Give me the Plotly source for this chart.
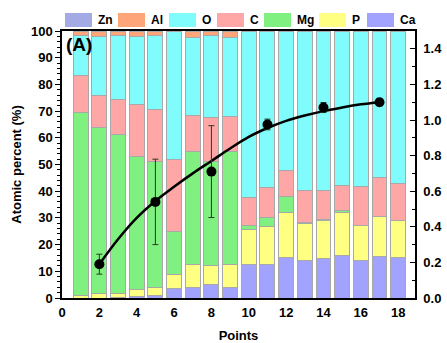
import plotly.graph_objects as go

# ---- data ----
points = list(range(1, 19))
elements = ["Zn", "Al", "O", "C", "Mg", "P", "Ca"]  # legend order (top of stack first)

Ca = [0.0, 0.0, 0.3, 0.5, 1.1, 3.6, 3.9, 4.9, 3.9, 12.6, 12.6, 15.2, 13.9, 14.9, 16.1, 13.9, 15.7, 15.1]
P = [0.9, 1.8, 1.3, 2.8, 2.8, 5.3, 8.7, 7.2, 8.7, 13.1, 14.1, 16.9, 13.9, 14.3, 15.8, 13.2, 14.8, 14.1]
Mg = [68.6, 62.1, 59.8, 49.6, 47.1, 15.9, 42.2, 38.9, 42.2, 1.4, 3.5, 5.8, 0.5, 0.3, 0.7, 0.0, 0.0, 0.0]
C = [14.0, 11.9, 13.1, 19.4, 19.7, 26.9, 13.4, 16.5, 13.1, 10.6, 11.3, 10.0, 12.1, 10.9, 9.7, 14.8, 14.7, 13.5]
O = [14.7, 22.1, 23.9, 25.6, 27.5, 48.3, 29.4, 30.7, 29.7, 62.3, 58.5, 52.1, 59.6, 59.6, 57.7, 58.1, 54.8, 57.3]
Al = [1.8, 2.1, 1.6, 2.1, 1.8, 0.0, 2.4, 1.8, 2.4, 0, 0, 0, 0, 0, 0, 0, 0, 0]
Zn = [0.0] * 18

marker_x = [2, 5, 8, 11, 14, 17]
marker_y = [0.19, 0.54, 0.71, 0.975, 1.07, 1.10]
marker_err = [0.056, 0.24, 0.258, 0.03, 0.028, 0.02]

curve_x = [2, 3, 4, 5, 6, 7, 8, 9, 10, 11, 12, 13, 14, 15, 16, 17]
curve_y = [0.19, 0.33, 0.45, 0.545, 0.625, 0.70, 0.77, 0.84, 0.905, 0.955, 0.995, 1.025, 1.05, 1.07, 1.088, 1.10]

x_ticks = [0, 2, 4, 6, 8, 10, 12, 14, 16, 18]

colors = {
    "Zn": "#A4ABE4",
    "Al": "#FFA57A",
    "O": "#80FCFC",
    "C": "#FFA6A6",
    "Mg": "#80F080",
    "P": "#FFFF82",
    "Ca": "#A2A2FF",
}

series = {"Ca": Ca, "P": P, "Mg": Mg, "C": C, "O": O, "Al": Al, "Zn": Zn}
stack_order = ["Ca", "P", "Mg", "C", "O", "Al", "Zn"]

FONT = "Liberation Sans, Arial, sans-serif"

fig = go.Figure()
for name in stack_order:
    fig.add_trace(go.Bar(
        x=points, y=series[name], name=name, width=0.8,
        marker=dict(color=colors[name], line=dict(color="#A8A8A8", width=1)),
        showlegend=False,
    ))

fig.add_trace(go.Scatter(
    x=curve_x, y=curve_y, mode="lines", line=dict(color="black", width=2.5, shape="spline"),
    yaxis="y2", showlegend=False,
))
fig.add_trace(go.Scatter(
    x=marker_x, y=marker_y, mode="markers",
    marker=dict(color="black", size=10),
    error_y=dict(type="data", array=marker_err, color="#2a3a22", thickness=1, width=3),
    yaxis="y2", showlegend=False,
))

# custom legend (wide patches like the reference)
L, R, T, B = 62, 32, 31, 45
W, H = 447 - L - R, 343 - T - B
legend_patch_px = [65, 118, 169, 217, 264, 319, 367]
patch_w = 27
for name, px in zip(elements, legend_patch_px):
    x0 = (px - L) / W
    x1 = (px + patch_w - L) / W
    fig.add_shape(type="rect", xref="paper", yref="paper",
                  x0=x0, x1=x1, y0=(298 - 27) / H, y1=(298 - 13) / H,
                  fillcolor=colors[name], line=dict(width=0))
    fig.add_annotation(xref="paper", yref="paper", x=x1 + 4 / W, y=(298 - 20) / H,
                       text=name, showarrow=False, xanchor="left", yanchor="middle",
                       font=dict(family=FONT, size=12, color="black", weight="bold"))

fig.add_annotation(xref="paper", yref="paper", x=(64 - L) / W, y=(298 - 44) / H,
                   text="(A)", showarrow=False, xanchor="left", yanchor="middle",
                   font=dict(family=FONT, size=19, color="black", weight="bold"))

tickfont = dict(family=FONT, size=13, color="black", weight="bold")
fig.update_layout(
    width=447, height=343,
    margin=dict(l=L, r=R, t=T, b=B, autoexpand=False),
    barmode="stack",
    plot_bgcolor="white", paper_bgcolor="white",
    font=dict(family=FONT, color="black"),
    xaxis=dict(range=[0, 18.9], tickvals=x_ticks, ticks="", showgrid=False, zeroline=False,
               showline=True, linecolor="black", linewidth=1.5, mirror=True,
               tickfont=tickfont, ticklabelstandoff=2, automargin=False,
               title=dict(text="Points", font=dict(family=FONT, size=13, color="black", weight="bold"), standoff=22)),
    yaxis=dict(range=[0, 100], dtick=10, ticks="outside", ticklen=5, tickwidth=1, tickcolor="black",
               minor=dict(dtick=2, ticks="outside", ticklen=3, tickcolor="black"),
               showgrid=False, zeroline=False, showline=True, linecolor="black", linewidth=1.5,
               tickfont=tickfont, automargin=False,
               title=dict(text="Atomic percent (%)", font=dict(family=FONT, size=13, color="black", weight="bold"), standoff=6)),
    yaxis2=dict(range=[0, 1.5], dtick=0.2, tickformat=".1f", overlaying="y", side="right",
                ticks="inside", ticklen=5, tickwidth=1, tickcolor="black",
                minor=dict(dtick=0.1, ticks="inside", ticklen=3, tickcolor="black"),
                showgrid=False, zeroline=False, showline=True, linecolor="black", linewidth=1.5,
                tickfont=tickfont, ticklabelstandoff=4, automargin=False),
)

fig.write_html("out.html")
